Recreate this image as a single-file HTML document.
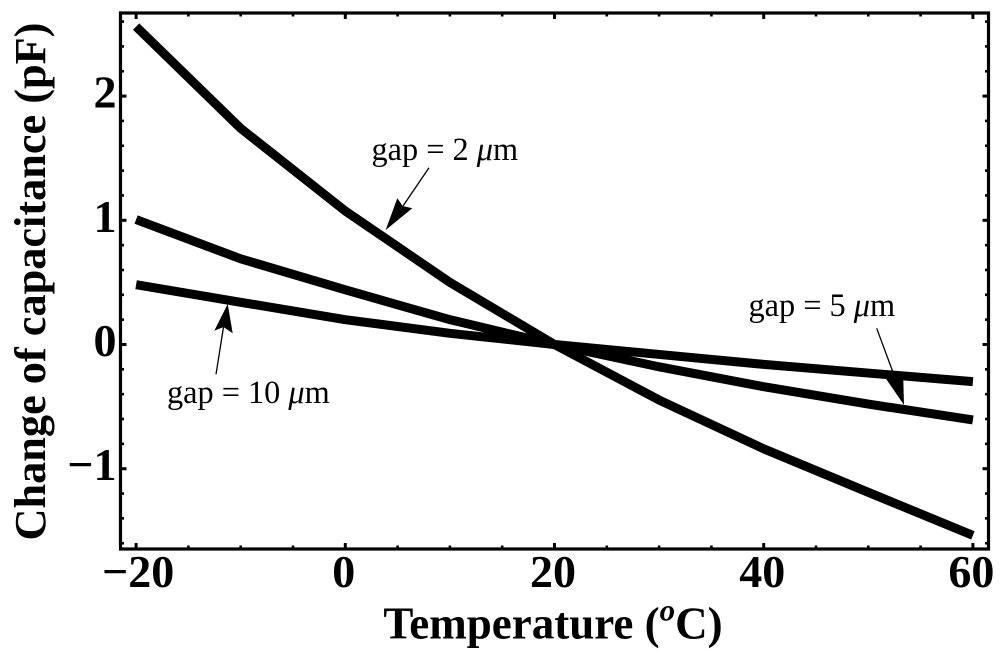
<!DOCTYPE html>
<html>
<head>
<meta charset="utf-8">
<style>
html,body{margin:0;padding:0;background:#fff;width:1000px;height:652px;overflow:hidden}
svg{display:block}
text{font-family:"Liberation Serif",serif;fill:#000}
.tick{font-size:46px;font-weight:bold}
.title{font-size:45px;font-weight:bold}
.y-title{font-size:44.3px;font-weight:bold}
.ann{font-size:32.3px}
</style>
</head>
<body>
<svg id="chart" width="1000" height="652" viewBox="0 0 1000 652" xmlns="http://www.w3.org/2000/svg">
<rect x="120.5" y="13" width="868" height="536" fill="none" stroke="#000" stroke-width="3.2"/>
<g id="ticks"></g>
<g id="labels"></g>
<g id="series"></g>
<text class="title" x="553" y="638.5" text-anchor="middle">Temperature (<tspan font-style="italic" dy="-18" font-size="31">o</tspan><tspan dy="18">C)</tspan></text>
<text class="y-title" transform="translate(45,281.5) rotate(-90)" text-anchor="middle">Change of capacitance (pF)</text>

<text class="ann" x="371.5" y="160">gap = 2 <tspan font-style="italic">μ</tspan>m</text>
<text class="ann" x="748.5" y="316">gap = 5 <tspan font-style="italic">μ</tspan>m</text>
<text class="ann" x="167" y="403">gap = 10 <tspan font-style="italic">μ</tspan>m</text>

<g>
<line x1="429" y1="167.7" x2="403" y2="206" stroke="#000" stroke-width="1.3"/>
<polygon points="385.7,230 397.3,198.3 402.7,206 412.3,208.3" fill="#000"/>
</g>
<g>
<line x1="876.7" y1="328.3" x2="894" y2="375" stroke="#000" stroke-width="1.3"/>
<polygon points="904,405 885.7,378.3 895,374 903.3,380" fill="#000"/>
</g>
<g>
<line x1="216" y1="374.3" x2="223.5" y2="327" stroke="#000" stroke-width="1.3"/>
<polygon points="227.7,304 214.3,330.7 223.5,327 232.7,333.3" fill="#000"/>
</g>
</svg>
<script>
const temperatures = [-20, -10, 0, 10, 20, 30, 40, 50, 60];
const gap2Values = [2.56, 1.74, 1.075, 0.5, 0, -0.447, -0.84, -1.19, -1.537];
const gap5Values = [1.006, 0.69, 0.44, 0.2, 0, -0.18, -0.34, -0.48, -0.607];
const gap10Values = [0.482, 0.34, 0.2, 0.09, 0, -0.08, -0.16, -0.23, -0.299];
const xTickLabels = [-20, 0, 20, 40, 60];
const yTickLabels = [-1, 0, 1, 2];
const xTickValues = [-20, -15, -10, -5, 0, 5, 10, 15, 20, 25, 30, 35, 40, 45, 50, 55, 60];
const yTickValues = [-1.6, -1.4, -1.2, -1, -0.8, -0.6, -0.4, -0.2, 0, 0.2, 0.4, 0.6, 0.8, 1, 1.2, 1.4, 1.6, 1.8, 2, 2.2, 2.4, 2.6];

const NS = 'http://www.w3.org/2000/svg';
function xScale(v){ return 345.3 + v * 10.46; }
function yScale(v){ return 344.5 - v * 124.2; }
function fmt(v){ return v < 0 ? '\u2212' + Math.abs(v) : String(v); }

const tickGroup = document.getElementById('ticks');
const labelGroup = document.getElementById('labels');
const seriesGroup = document.getElementById('series');

function addTick(x1, y1, x2, y2, w){
  const l = document.createElementNS(NS, 'line');
  
  
  l.setAttribute('x1', x1);
  l.setAttribute('y1', y1);
  l.setAttribute('x2', x2);
  l.setAttribute('y2', y2);
  l.setAttribute('stroke', '#000');
  l.setAttribute('stroke-width', w);
  tickGroup.appendChild(l);
}

xTickValues.forEach(function(v){
  const major = xTickLabels.indexOf(v) >= 0;
  const len = major ? 6 : 3.5;
  const x = xScale(v);
  addTick(x, 549, x, 549 - len, major ? 3 : 2.6);
  addTick(x, 13, x, 13 + len, major ? 3 : 2.6);
});
yTickValues.forEach(function(v){
  const major = yTickLabels.indexOf(v) >= 0;
  const len = major ? 6 : 3.5;
  const y = yScale(v);
  addTick(120.5, y, 120.5 + len, y, major ? 3 : 2.6);
  addTick(988.5, y, 988.5 - len, y, major ? 3 : 2.6);
});

xTickLabels.forEach(function(v){
  const t = document.createElementNS(NS, 'text');
  
  
  t.setAttribute('class', 'tick');
  t.setAttribute('x', xScale(v) + (v < 0 ? 2 : -1.5));
  t.setAttribute('y', 587);
  t.setAttribute('text-anchor', 'middle');
  t.textContent = fmt(v);
  labelGroup.appendChild(t);
});
yTickLabels.forEach(function(v){
  const t = document.createElementNS(NS, 'text');
  
  
  t.setAttribute('class', 'tick');
  t.setAttribute('x', 116.5);
  t.setAttribute('y', yScale(v) + 11.5);
  t.setAttribute('text-anchor', 'end');
  t.textContent = fmt(v);
  labelGroup.appendChild(t);
});

function drawSeries(values, name){
  const p = document.createElementNS(NS, 'polyline');
  
  
  p.setAttribute('fill', 'none');
  p.setAttribute('stroke', '#000');
  p.setAttribute('stroke-width', '9');
  p.setAttribute('stroke-linejoin', 'round');
  p.setAttribute('points', values.map(function(v, i){
    return xScale(temperatures[i]) + ',' + yScale(v);
  }).join(' '));
  seriesGroup.appendChild(p);
}
drawSeries(gap2Values, 'line-gap-2');
drawSeries(gap5Values, 'line-gap-5');
drawSeries(gap10Values, 'line-gap-10');
</script>
</body>
</html>
